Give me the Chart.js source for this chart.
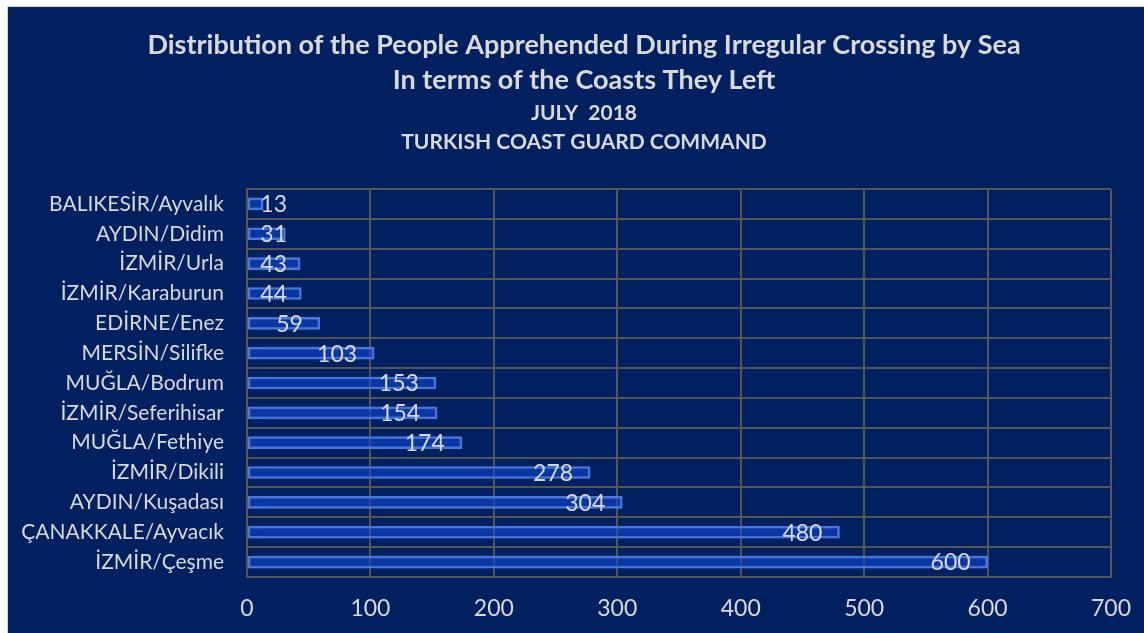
<!DOCTYPE html>
<html>
<head>
<meta charset="utf-8">
<script src="https://cdn.jsdelivr.net/npm/chart.js@4.4.0/dist/chart.umd.min.js"></script>
<style>
  body { margin: 0; background: #ffffff; }
  #wrap { position: absolute; left: 7px; top: 6px; width: 1137px; height: 627px; border-left: 1px solid #d0d0d0; border-top: 1px solid #d0d0d0; background: #002060; }
</style>
</head>
<body>
<div id="wrap"><canvas id="myChart" width="1136" height="626"></canvas></div>
<script>
const coasts = ['BALIKESİR/Ayvalık', 'AYDIN/Didim', 'İZMİR/Urla', 'İZMİR/Karaburun', 'EDİRNE/Enez',
    'MERSİN/Silifke', 'MUĞLA/Bodrum', 'İZMİR/Seferihisar', 'MUĞLA/Fethiye', 'İZMİR/Dikili',
    'AYDIN/Kuşadası', 'ÇANAKKALE/Ayvacık', 'İZMİR/Çeşme'];
const apprehended = [13, 31, 43, 44, 59, 103, 153, 154, 174, 278, 304, 480, 600];
const titleLines = ['Distribution of the People Apprehended During Irregular Crossing by Sea', 'In terms of the Coasts They Left'];
const subtitleLines = ['JULY  2018', 'TURKISH COAST GUARD COMMAND'];

const textColor = '#d9d9d9';
const gridColor = '#555555';

// titles drawn by hand so they can sit a bit right of the canvas centre
const titleBlock = {
    id: 'titleBlock',
    afterDraw(chart) {
        const ctx = chart.ctx;
        const cx = chart.width / 2 + 8;
        ctx.save();
        ctx.fillStyle = textColor;
        ctx.textAlign = 'center';
        ctx.textBaseline = 'middle';
        ctx.font = 'bold 27px Lato';
        titleLines.forEach((t, i) => ctx.fillText(t, cx, 38 + i * 35));
        ctx.font = 'bold 21px Lato';
        subtitleLines.forEach((t, i) => ctx.fillText(t, cx, 106 + i * 29));
        ctx.restore();
    }
};

// glow around the bars
const glowPlugin = {
    id: 'glow',
    beforeDatasetDraw(chart) {
        chart.ctx.save();
        chart.ctx.shadowColor = 'rgba(20,80,230,0.85)';
        chart.ctx.shadowBlur = 12;
    },
    afterDatasetDraw(chart) {
        chart.ctx.restore();
    }
};

// value labels near the end of each bar
const valueLabels = {
    id: 'valueLabels',
    afterDatasetsDraw(chart) {
        const ctx = chart.ctx;
        const meta = chart.getDatasetMeta(0);
        const base = chart.scales.x.getPixelForValue(0);
        ctx.save();
        ctx.font = '23px Lato';
        ctx.fillStyle = textColor;
        ctx.textAlign = 'right';
        ctx.textBaseline = 'middle';
        meta.data.forEach((bar, i) => {
            let x = Math.max(bar.x - 17, base + 40);
            ctx.fillText(String(apprehended[i]), x, bar.y + 1);
        });
        ctx.restore();
    }
};

const data = {
    labels: coasts,
    datasets: [{
        data: apprehended,
        backgroundColor: 'rgba(20,70,200,0.35)',
        borderColor: '#4f7dd8',
        borderWidth: 2,
        borderSkipped: false,
        barThickness: 12
    }]
};

const config = {
    type: 'bar',
    data,
    options: {
        indexAxis: 'y',
        responsive: false,
        animation: false,
        layout: { padding: { left: 0, right: 33, top: 182, bottom: 0 } },
        plugins: {
            legend: { display: false },
            tooltip: { enabled: false },
            title: { display: false }
        },
        scales: {
            x: {
                min: 0,
                max: 700,
                ticks: { stepSize: 100, color: textColor, padding: 18, font: { family: 'Lato', size: 23 } },
                grid: { color: gridColor, lineWidth: 2, drawTicks: false },
                border: { color: gridColor, width: 2 },
                afterFit(scale) {
                    scale.height = 56;
                    scale.paddingLeft = 0;
                    scale.paddingRight = 0;
                }
            },
            y: {
                ticks: { color: textColor, padding: 23, font: { family: 'Lato', size: 21 } },
                grid: { color: gridColor, lineWidth: 2, drawTicks: false },
                border: { color: gridColor, width: 2 },
                afterFit(scale) { scale.width = 239; }
            }
        }
    },
    plugins: [glowPlugin, valueLabels, titleBlock]
};

const myChart = new Chart(document.getElementById('myChart'), config);
</script>
</body>
</html>
